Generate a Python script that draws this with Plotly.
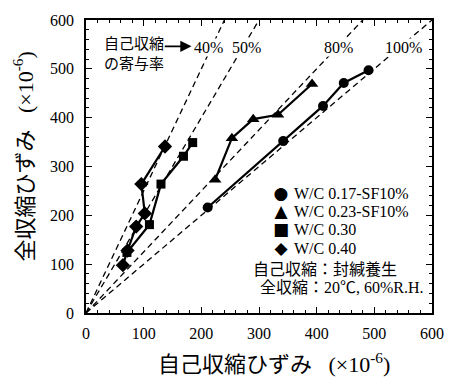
import plotly.graph_objects as go

# Autogenous shrinkage (x) vs total shrinkage (y), both in 1e-6
wc017_auto = [211, 342, 411, 447, 490]
wc017_total = [216, 352, 424, 471, 497]

wc023_auto = [224, 253, 290, 333, 392]
wc023_total = [273, 358, 397, 406, 469]

wc030_auto = [71, 110, 130, 169, 185]
wc030_total = [124, 181, 264, 321, 349]

wc040_auto = [64, 72, 87, 102, 96, 137]
wc040_total = [98, 128, 177, 204, 264, 341]

series_names = ["W/C 0.17-SF10%", "W/C 0.23-SF10%", "W/C 0.30", "W/C 0.40"]
series_symbols = ["circle", "triangle-up", "square", "diamond"]
legend_glyphs = ["●", "▲", "■", "◆"]

# Contribution ratio of autogenous shrinkage: total = autogenous / ratio
ratios = [0.4, 0.5, 0.8, 1.0]
ratio_labels = ["40%", "50%", "80%", "100%"]

axis_ticks = [0, 100, 200, 300, 400, 500, 600]

FONT = "Liberation Serif, Noto Sans CJK JP, serif"
SYMFONT = "DejaVu Sans"

# label anchor positions along the x axis (layout only)
ratio_label_x = [212, 279, 437, 551]
ratio_label_y = 543

fig = go.Figure()

# dashed reference lines through the origin
for r in ratios:
    xs = [0, 600]
    ys = [x / r for x in xs]
    fig.add_trace(go.Scatter(
        x=xs, y=ys, mode="lines", showlegend=False, hoverinfo="skip",
        line=dict(color="black", width=1.3, dash="6px,4px"),
    ))

sizes = [10, 11, 9, 11]
for name, sym, xs, ys, sz in zip(
    series_names, series_symbols,
    [wc017_auto, wc023_auto, wc030_auto, wc040_auto],
    [wc017_total, wc023_total, wc030_total, wc040_total],
    sizes,
):
    fig.add_trace(go.Scatter(
        x=xs, y=ys, name=name, mode="lines+markers", showlegend=False,
        line=dict(color="black", width=2.2),
        marker=dict(symbol=sym, size=sz, color="black"),
    ))

annotations = []
for lx, lab in zip(ratio_label_x, ratio_labels):
    annotations.append(dict(
        x=lx, y=ratio_label_y, xref="x", yref="y", text=lab,
        showarrow=False, bgcolor="white", borderpad=0,
        font=dict(family=FONT, size=16, color="black"),
    ))

# legend: a column of key glyphs and a column of series names
glyph_block = "<br>".join(
    f"<span style='font-size:17px'>{g}</span>" for g in legend_glyphs)
name_block = "<br>".join(
    f"<span style='font-size:16px'>{n}</span>" for n in series_names)
annotations.append(dict(
    x=0.563, y=0.314, xref="paper", yref="paper", text=glyph_block,
    showarrow=False, xanchor="center", yanchor="middle", align="center",
    font=dict(family=SYMFONT, size=14, color="black")))
annotations.append(dict(
    x=0.594, y=0.314, xref="paper", yref="paper", text=name_block,
    showarrow=False, xanchor="left", yanchor="middle", align="left",
    font=dict(family=FONT, size=14, color="black")))

annotations += [
    dict(x=29, y=551, xref="x", yref="y", text="自己収縮", showarrow=False,
         xanchor="left", bgcolor="white", borderpad=0,
         font=dict(family=FONT, size=15, color="black")),
    dict(x=29, y=510, xref="x", yref="y", text="の寄与率", showarrow=False,
         xanchor="left", bgcolor="white", borderpad=0,
         font=dict(family=FONT, size=15, color="black")),
    dict(x=183, y=546, xref="x", yref="y", ax=134, ay=546, axref="x", ayref="y",
         text="", showarrow=True, arrowhead=2, arrowsize=1.4, arrowwidth=1.6,
         arrowcolor="black"),
    dict(x=0.478, y=0.148, xref="paper", yref="paper", text="自己収縮：封緘養生",
         showarrow=False, xanchor="left", yanchor="middle",
         font=dict(family=FONT, size=16, color="black")),
    dict(x=0.498, y=0.088, xref="paper", yref="paper", text="全収縮：20℃, 60%R.H.",
         showarrow=False, xanchor="left", yanchor="middle",
         font=dict(family=FONT, size=16, color="black")),
    dict(x=0.543, y=-0.172, xref="paper", yref="paper",
         text="自己収縮ひずみ\u2002 (×10<sup>-6</sup>)",
         showarrow=False, xanchor="center", yanchor="middle",
         font=dict(family=FONT, size=22, color="black")),
    dict(x=-0.182, y=0.534, xref="paper", yref="paper",
         text="全収縮ひずみ\u2002 (×10<sup>-6</sup>)", textangle=-90,
         showarrow=False, xanchor="center", yanchor="middle",
         font=dict(family=FONT, size=22, color="black")),
]

axis_common = dict(
    range=[0, 600], tickvals=axis_ticks, ticktext=[str(t) for t in axis_ticks],
    ticks="inside", ticklen=6, tickwidth=1.2, tickcolor="black",
    minor=dict(dtick=20, ticks="inside", ticklen=3, tickwidth=1, tickcolor="black"),
    showline=True, linecolor="black", linewidth=1.5, mirror="allticks",
    showgrid=False, zeroline=False,
    tickfont=dict(family=FONT, size=16, color="black"),
)

fig.update_layout(
    width=456, height=378,
    margin=dict(l=86, r=13, t=17, b=65),
    paper_bgcolor="white", plot_bgcolor="white",
    xaxis=dict(**axis_common, ticklabelstandoff=5),
    yaxis=dict(**axis_common, ticklabelstandoff=7),
    showlegend=False,
    annotations=annotations,
)

fig.write_html("out.html")
